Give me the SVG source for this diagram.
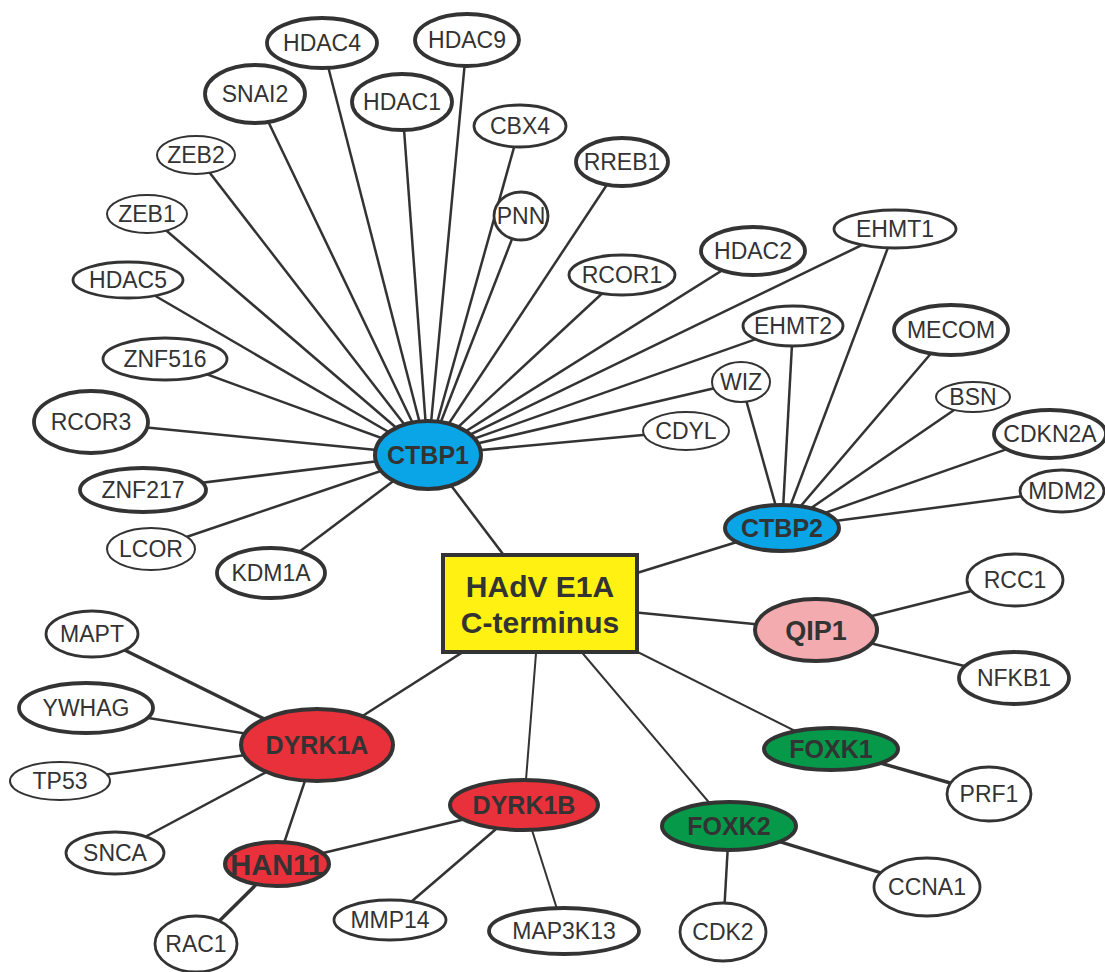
<svg xmlns="http://www.w3.org/2000/svg" width="1105" height="972" viewBox="0 0 1105 972">
<style>
.e{fill:#fff;stroke:#333;stroke-width:2.8}
.thin{stroke-width:2}
.thick{stroke-width:3.8}
.hub{stroke:#333;stroke-width:4}
.blue{fill:#0aa5e6}
.red{fill:#e8313a}
.pink{fill:#f4abb0}
.green{fill:#06994a}
.t{font-family:"Liberation Sans",Arial,sans-serif;font-size:23px;fill:#333;text-anchor:middle}
.b{font-family:"Liberation Sans",Arial,sans-serif;font-weight:bold;font-size:25px;fill:#333;text-anchor:middle}
#edges line{stroke:#333;stroke-width:2.5}
#edges .w{stroke-width:3.4}
#edges .n{stroke-width:2}
</style>
<rect width="1105" height="972" fill="#fff"/>
<g id="edges">
<line x1="428" y1="455" x2="322" y2="43"/>
<line x1="428" y1="455" x2="467" y2="40"/>
<line x1="428" y1="455" x2="255" y2="94"/>
<line x1="428" y1="455" x2="402" y2="102"/>
<line x1="428" y1="455" x2="520" y2="126"/>
<line x1="428" y1="455" x2="196" y2="155"/>
<line x1="428" y1="455" x2="622" y2="162"/>
<line x1="428" y1="455" x2="147" y2="214"/>
<line x1="428" y1="455" x2="521" y2="216"/>
<line x1="428" y1="455" x2="753" y2="251"/>
<line x1="428" y1="455" x2="895" y2="229"/>
<line x1="428" y1="455" x2="622" y2="275"/>
<line x1="428" y1="455" x2="128" y2="280"/>
<line x1="428" y1="455" x2="793" y2="326"/>
<line x1="428" y1="455" x2="165" y2="359"/>
<line x1="428" y1="455" x2="741" y2="382"/>
<line x1="428" y1="455" x2="91" y2="422"/>
<line x1="428" y1="455" x2="686" y2="431"/>
<line x1="428" y1="455" x2="143" y2="490"/>
<line x1="428" y1="455" x2="151" y2="549"/>
<line x1="428" y1="455" x2="271" y2="573"/>
<line x1="782" y1="528" x2="741" y2="382"/>
<line x1="782" y1="528" x2="793" y2="326"/>
<line x1="782" y1="528" x2="895" y2="229"/>
<line x1="782" y1="528" x2="951" y2="330"/>
<line x1="782" y1="528" x2="973" y2="397"/>
<line x1="782" y1="528" x2="1050" y2="434"/>
<line x1="782" y1="528" x2="1062" y2="491"/>
<line x1="540" y1="603" x2="428" y2="455"/>
<line x1="540" y1="603" x2="782" y2="528"/>
<line x1="540" y1="603" x2="816" y2="630"/>
<line class="n" x1="540" y1="603" x2="831" y2="749"/>
<line class="n" x1="540" y1="603" x2="729" y2="826"/>
<line class="n" x1="540" y1="603" x2="524" y2="805"/>
<line x1="540" y1="603" x2="317" y2="745"/>
<line x1="816" y1="630" x2="1015" y2="580"/>
<line x1="816" y1="630" x2="1014" y2="678"/>
<line class="w" x1="831" y1="749" x2="989" y2="794"/>
<line class="w" x1="729" y1="826" x2="927" y2="887"/>
<line x1="729" y1="826" x2="723" y2="932"/>
<line x1="524" y1="805" x2="277" y2="864"/>
<line x1="524" y1="805" x2="390" y2="920"/>
<line class="n" x1="524" y1="805" x2="564" y2="931"/>
<line class="w" x1="317" y1="745" x2="92" y2="634"/>
<line x1="317" y1="745" x2="86" y2="708"/>
<line x1="317" y1="745" x2="60" y2="781"/>
<line x1="317" y1="745" x2="115" y2="853"/>
<line x1="317" y1="745" x2="277" y2="864"/>
<line class="w" x1="277" y1="864" x2="196" y2="944"/>
</g>
<g id="HDAC4"><ellipse class="e thick" cx="322" cy="43" rx="55" ry="25"/><text class="t" x="322" y="51">HDAC4</text></g>
<g id="HDAC9"><ellipse class="e thick" cx="467" cy="40" rx="52" ry="26"/><text class="t" x="467" y="48">HDAC9</text></g>
<g id="SNAI2"><ellipse class="e thick" cx="255" cy="94" rx="50" ry="29"/><text class="t" x="255" y="102">SNAI2</text></g>
<g id="HDAC1"><ellipse class="e thick" cx="402" cy="102" rx="50" ry="28"/><text class="t" x="402" y="110">HDAC1</text></g>
<g id="CBX4"><ellipse class="e" cx="520" cy="126" rx="46" ry="21"/><text class="t" x="520" y="134">CBX4</text></g>
<g id="ZEB2"><ellipse class="e thin" cx="196" cy="155" rx="39" ry="19"/><text class="t" x="196" y="163">ZEB2</text></g>
<g id="RREB1"><ellipse class="e thick" cx="622" cy="162" rx="46" ry="24"/><text class="t" x="622" y="170">RREB1</text></g>
<g id="ZEB1"><ellipse class="e thin" cx="147" cy="214" rx="40" ry="19"/><text class="t" x="147" y="222">ZEB1</text></g>
<g id="PNN"><ellipse class="e" cx="521" cy="216" rx="27" ry="24"/><text class="t" x="521" y="224">PNN</text></g>
<g id="HDAC2"><ellipse class="e thick" cx="753" cy="251" rx="52" ry="24"/><text class="t" x="753" y="259">HDAC2</text></g>
<g id="EHMT1"><ellipse class="e" cx="895" cy="229" rx="61" ry="19"/><text class="t" x="895" y="237">EHMT1</text></g>
<g id="RCOR1"><ellipse class="e" cx="622" cy="275" rx="53" ry="20"/><text class="t" x="622" y="283">RCOR1</text></g>
<g id="HDAC5"><ellipse class="e" cx="128" cy="280" rx="55" ry="18"/><text class="t" x="128" y="288">HDAC5</text></g>
<g id="EHMT2"><ellipse class="e" cx="793" cy="326" rx="50" ry="20"/><text class="t" x="793" y="334">EHMT2</text></g>
<g id="MECOM"><ellipse class="e thick" cx="951" cy="330" rx="57" ry="25"/><text class="t" x="951" y="338">MECOM</text></g>
<g id="ZNF516"><ellipse class="e" cx="165" cy="359" rx="62" ry="21"/><text class="t" x="165" y="367">ZNF516</text></g>
<g id="WIZ"><ellipse class="e thin" cx="741" cy="382" rx="29" ry="20"/><text class="t" x="741" y="390">WIZ</text></g>
<g id="BSN"><ellipse class="e thin" cx="973" cy="397" rx="37" ry="15"/><text class="t" x="973" y="405">BSN</text></g>
<g id="RCOR3"><ellipse class="e thick" cx="91" cy="422" rx="57" ry="31"/><text class="t" x="91" y="430">RCOR3</text></g>
<g id="CDYL"><ellipse class="e thin" cx="686" cy="431" rx="43" ry="19"/><text class="t" x="686" y="439">CDYL</text></g>
<g id="CDKN2A"><ellipse class="e thick" cx="1050" cy="434" rx="56" ry="24"/><text class="t" x="1050" y="442">CDKN2A</text></g>
<g id="CTBP1"><ellipse class="hub blue" cx="428" cy="455" rx="53" ry="34"/><text class="b" x="428" y="464">CTBP1</text></g>
<g id="MDM2"><ellipse class="e" cx="1062" cy="491" rx="42" ry="21"/><text class="t" x="1062" y="499">MDM2</text></g>
<g id="ZNF217"><ellipse class="e thick" cx="143" cy="490" rx="63" ry="22"/><text class="t" x="143" y="498">ZNF217</text></g>
<g id="CTBP2"><ellipse class="hub blue" cx="782" cy="528" rx="57" ry="23"/><text class="b" x="782" y="537">CTBP2</text></g>
<g id="LCOR"><ellipse class="e thin" cx="151" cy="549" rx="44" ry="21"/><text class="t" x="151" y="557">LCOR</text></g>
<g id="KDM1A"><ellipse class="e thick" cx="271" cy="573" rx="54" ry="25"/><text class="t" x="271" y="581">KDM1A</text></g>
<g id="E1A"><rect x="443" y="555" width="194" height="97" fill="#fff212" stroke="#333" stroke-width="4"/><text class="b" x="540" y="597" style="font-size:30px">HAdV E1A</text><text class="b" x="540" y="633" style="font-size:30px">C-terminus</text></g>
<g id="QIP1"><ellipse class="hub pink" cx="816" cy="630" rx="61" ry="31"/><text class="b" x="816" y="640" style="font-size:27px">QIP1</text></g>
<g id="RCC1"><ellipse class="e" cx="1015" cy="580" rx="48" ry="26"/><text class="t" x="1015" y="588">RCC1</text></g>
<g id="NFKB1"><ellipse class="e thick" cx="1014" cy="678" rx="55" ry="26"/><text class="t" x="1014" y="686">NFKB1</text></g>
<g id="MAPT"><ellipse class="e" cx="92" cy="634" rx="46" ry="23"/><text class="t" x="92" y="642">MAPT</text></g>
<g id="YWHAG"><ellipse class="e thick" cx="86" cy="708" rx="67" ry="25"/><text class="t" x="86" y="716">YWHAG</text></g>
<g id="DYRK1A"><ellipse class="hub red" cx="317" cy="745" rx="76" ry="36"/><text class="b" x="317" y="754">DYRK1A</text></g>
<g id="TP53"><ellipse class="e thin" cx="60" cy="781" rx="50" ry="19"/><text class="t" x="60" y="789">TP53</text></g>
<g id="FOXK1"><ellipse class="hub green" cx="831" cy="749" rx="67" ry="21"/><text class="b" x="831" y="758">FOXK1</text></g>
<g id="PRF1"><ellipse class="e" cx="989" cy="794" rx="42" ry="27"/><text class="t" x="989" y="802">PRF1</text></g>
<g id="DYRK1B"><ellipse class="hub red" cx="524" cy="805" rx="74" ry="25"/><text class="b" x="524" y="814">DYRK1B</text></g>
<g id="SNCA"><ellipse class="e" cx="115" cy="853" rx="49" ry="21"/><text class="t" x="115" y="861">SNCA</text></g>
<g id="HAN11"><ellipse class="hub red" cx="277" cy="864" rx="52" ry="22"/><text class="b" x="277" y="875" style="font-size:29px">HAN11</text></g>
<g id="FOXK2"><ellipse class="hub green" cx="729" cy="826" rx="67" ry="24"/><text class="b" x="729" y="835">FOXK2</text></g>
<g id="CCNA1"><ellipse class="e" cx="927" cy="887" rx="53" ry="29"/><text class="t" x="927" y="895">CCNA1</text></g>
<g id="MMP14"><ellipse class="e" cx="390" cy="920" rx="56" ry="20"/><text class="t" x="390" y="928">MMP14</text></g>
<g id="MAP3K13"><ellipse class="e thick" cx="564" cy="931" rx="75" ry="23"/><text class="t" x="564" y="939">MAP3K13</text></g>
<g id="CDK2"><ellipse class="e" cx="723" cy="932" rx="43" ry="29"/><text class="t" x="723" y="940">CDK2</text></g>
<g id="RAC1"><ellipse class="e" cx="196" cy="944" rx="41" ry="28"/><text class="t" x="196" y="952">RAC1</text></g>
</svg>
